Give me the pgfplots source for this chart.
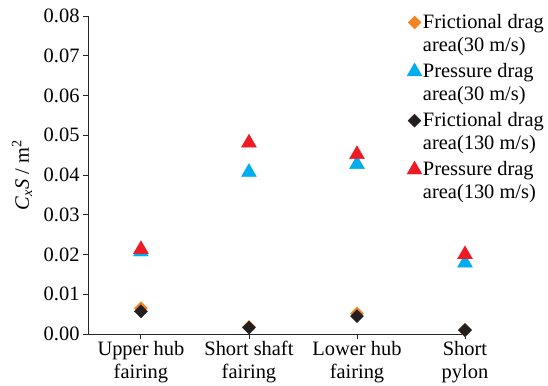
\documentclass[border=0pt]{standalone}
\usepackage{pgfplots}
\pgfplotsset{compat=1.18}
\usepackage{fontspec}
\setmainfont{Liberation Serif}
\definecolor{corange}{HTML}{F58220}
\definecolor{cblue}{HTML}{00AEEF}
\definecolor{cred}{HTML}{ED1C24}
\definecolor{cblack}{HTML}{231F20}
\newcommand{\ff}{\fontsize{20.5}{23}\selectfont}
\begin{document}
\begin{tikzpicture}
\useasboundingbox (0,0) rectangle (548bp,386bp);
\begin{axis}[
  at={(88bp,52bp)}, anchor=south west,
  scale only axis, width=377bp, height=318bp,
  xmin=-0.49, xmax=3, ymin=0, ymax=0.08,
  clip=false,
  axis lines=left,
  axis line style={-, line width=0.9bp, black!85},
  tick style={line width=0.9bp, black!85},
  tick align=outside, major tick length=5bp,
  xtick={0,1,2,3},
  xticklabels={{Upper hub\\fairing},{Short shaft\\fairing},{Lower hub\\fairing},{Short\\pylon}},
  xticklabel style={align=center, font=\ff, inner sep=2bp},
  ytick={0,0.01,0.02,0.03,0.04,0.05,0.06,0.07,0.08},
  yticklabel style={/pgf/number format/.cd, fixed, fixed zerofill, precision=2, assume math mode=true},
  scaled y ticks=false,
  ticklabel style={font=\ff},
  ylabel={\textit{C}\textsubscript{\textit{x}}\textit{S} / m\textsuperscript{2}},
  ylabel style={at={(axis description cs:-0.175,0.5)}, anchor=center, font=\ff},
  legend style={draw=none, fill=none, at={(axis description cs:1,1)}, xshift=80bp, yshift=3bp,
    anchor=north east, font=\ff, row sep=8.5bp, inner sep=0pt,
    nodes={inner sep=1bp}, cells={align=left}},
  legend cell align=left,
  legend image code/.code={\draw[mark repeat=2,mark phase=2,#1] plot coordinates {(0cm,11bp)(0.06cm,11bp)(0.34cm,11bp)};},
]
\addplot[only marks, mark=square*, mark size=4.6bp, mark options={rotate=45, fill=corange, draw=corange}]
  coordinates {(0,0.0065) (1,0.0018) (2,0.0052) (3,0.0010)};
\addlegendentry{Frictional drag\\area(30 m/s)}
\addplot[only marks, mark=triangle*, mark size=8.6bp, mark options={fill=cblue, draw=cblue}]
  coordinates {(0,0.0207) (1,0.0407) (2,0.0427) (3,0.0179)};
\addlegendentry{Pressure drag\\area(30 m/s)}
\addplot[only marks, mark=square*, mark size=4.6bp, mark options={rotate=45, fill=cblack, draw=cblack}]
  coordinates {(0,0.0057) (1,0.0016) (2,0.0045) (3,0.0010)};
\addlegendentry{Frictional drag\\area(130 m/s)}
\addplot[only marks, mark=triangle*, mark size=8.6bp, mark options={fill=cred, draw=cred}]
  coordinates {(0,0.0213) (1,0.0481) (2,0.0452) (3,0.0200)};
\addlegendentry{Pressure drag\\area(130 m/s)}
\end{axis}
\end{tikzpicture}
\end{document}
